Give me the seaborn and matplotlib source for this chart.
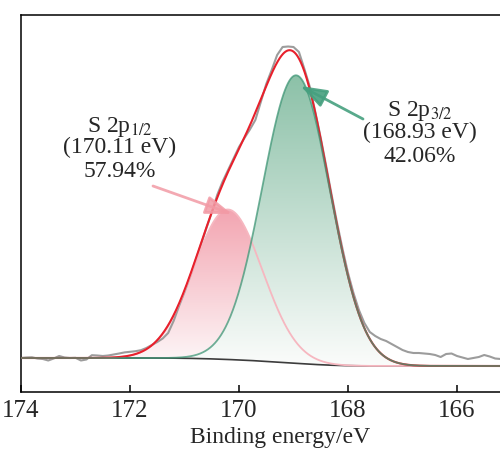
import numpy as np
import matplotlib
matplotlib.use("Agg")
import matplotlib.pyplot as plt
import matplotlib.colors as mcolors
import seaborn as sns

# Raw spectrum (binding energy in eV, intensity in a.u.)
raw_be = [174.0, 173.9, 173.8, 173.7, 173.6, 173.5, 173.4, 173.3, 173.2, 173.1,
          173.0, 172.9, 172.8, 172.7, 172.6, 172.5, 172.4, 172.3, 172.2, 172.1,
          172.0, 171.9, 171.8, 171.7, 171.6, 171.5, 171.4, 171.3, 171.2, 171.1,
          171.0, 170.9, 170.8, 170.7, 170.6, 170.5, 170.4, 170.3, 170.2, 170.1,
          170.0, 169.9, 169.8, 169.7, 169.6, 169.5, 169.4, 169.3, 169.2, 169.1,
          169.0, 168.9, 168.8, 168.7, 168.6, 168.5, 168.4, 168.3, 168.2, 168.1,
          168.0, 167.9, 167.8, 167.7, 167.6, 167.5, 167.4, 167.3, 167.2, 167.1,
          167.0, 166.9, 166.8, 166.7, 166.6, 166.5, 166.4, 166.3, 166.2, 166.1,
          166.0, 165.9, 165.8, 165.7, 165.6, 165.5, 165.4, 165.3, 165.2]
raw_int = [8.0, 8.5, 8.7, 7.5, 7.0, 5.5, 7.5, 10.0, 8.5, 8.0,
           8.2, 5.5, 6.5, 10.8, 10.5, 10.0, 10.5, 11.5, 12.5, 13.6,
           14.2, 14.8, 15.8, 18.0, 21.0, 24.0, 27.5, 33.0, 45.0, 60.0,
           74.0, 89.0, 105.0, 121.0, 137.5, 153.5, 171.0, 184.5, 196.0, 207.5,
           219.0, 228.0, 236.5, 246.0, 264.0, 282.0, 296.0, 311.0, 319.0, 319.5,
           319.0, 314.0, 297.0, 279.0, 254.0, 228.0, 200.0, 171.0, 143.0, 117.0,
           93.0, 73.0, 56.0, 43.0, 34.0, 30.0, 27.0, 25.0, 22.0, 19.0,
           16.0, 14.0, 13.0, 13.0, 12.5, 12.0, 11.0, 9.0, 12.0, 12.5,
           10.0, 8.5, 7.0, 8.0, 9.0, 11.0, 9.5, 7.5, 7.0]

# Fitted components (Gaussian): centre, height, width
peak_names = ["S 2p1/2", "S 2p3/2"]
peak_centers = [170.20, 168.95]
peak_heights = [150.0, 288.0]
peak_sigmas = [0.63, 0.62]
bg_high, bg_low = 8.0, 0.0

# Annotation texts
label_left = ["S 2p$_{1/2}$", "(170.11 eV)", "57.94%"]
label_right = ["S 2p$_{3/2}$", "(168.93 eV)", "42.06%"]

sns.set_theme(style="ticks")
plt.rcParams['font.family'] = ['Liberation Serif', 'DejaVu Serif']
plt.rcParams['mathtext.fontset'] = 'stix'

fig = plt.figure(figsize=(5, 4.5), dpi=100)
ax = fig.add_axes([21 / 500, 58 / 450, 517.75 / 500, 377 / 450])

# Evaluate components and Shirley-type background
be = np.linspace(174.0, 164.5, 1901)
comps = [h * np.exp(-(be - c) ** 2 / (2 * s ** 2))
         for c, h, s in zip(peak_centers, peak_heights, peak_sigmas)]
total = comps[0] + comps[1]
cum = np.cumsum(total[::-1])[::-1]
bg = bg_low + (bg_high - bg_low) * cum / cum[0]
envelope = bg + total


def gradient_fill(ax, x, top, base, c_top, c_bot, z):
    # vertical colour gradient clipped to the area under a component
    poly = ax.fill_between(x, base, top, facecolor='none', edgecolor='none')
    path = poly.get_paths()[0]
    t = np.linspace(0, 1, 256)[:, None]
    grad = np.ones((256, 1, 4))
    grad[..., :3] = (1 - t[..., None]) * np.array(mcolors.to_rgb(c_top)) + \
        t[..., None] * np.array(mcolors.to_rgb(c_bot))
    im = ax.imshow(grad, extent=[x.min(), x.max(), base.min(), top.max()],
                   origin='upper', aspect='auto', zorder=z, interpolation='bilinear')
    im.set_clip_path(path, transform=ax.transData)


gradient_fill(ax, be, bg + comps[0], bg, '#f3a5b1', '#fdf8f9', 1)
gradient_fill(ax, be, bg + comps[1], bg, '#8cc1a8', '#fbfcfb', 1.1)

# Lines
sns.lineplot(x=raw_be, y=raw_int, ax=ax, color='#9c9c9c', lw=1.5, zorder=2)
sns.lineplot(x=be, y=bg, ax=ax, color='#3c3c3c', lw=1.2, zorder=2.2)
sns.lineplot(x=be, y=bg + comps[0], ax=ax, color='#f6b7c0', lw=1.3, zorder=2.4)
sns.lineplot(x=be, y=envelope, ax=ax, color='#e8202c', lw=1.5, zorder=2.6)
sns.lineplot(x=be, y=bg + comps[1], ax=ax, color='#3f9676', lw=1.3, alpha=0.75, zorder=2.8)

# Arrows pointing to the components
ax.annotate('', xy=(170.13, 152), xytext=(153 / 500, 1 - 186 / 450),
            textcoords='figure fraction',
            arrowprops=dict(arrowstyle='-|>,head_length=0.8,head_width=0.28',
                            mutation_scale=20, color='#f29aa5', lw=2, alpha=0.85,
                            shrinkA=0, shrinkB=0), zorder=5)
ax.annotate('', xy=(168.87, 280), xytext=(363 / 500, 1 - 119 / 450),
            textcoords='figure fraction',
            arrowprops=dict(arrowstyle='-|>,head_length=0.8,head_width=0.28',
                            mutation_scale=20, color='#46a07f', lw=2, alpha=0.9,
                            shrinkA=0, shrinkB=0), zorder=5)

# Labels
for txt, yb in zip(label_left, [132, 153, 177]):
    fig.text(120 / 500, 1 - yb / 450, txt, ha='center', va='baseline', fontsize=17)
for txt, yb in zip(label_right, [116, 138, 162]):
    fig.text(420 / 500, 1 - yb / 450, txt, ha='center', va='baseline', fontsize=17)

ax.set_xlim(174, 164.5)
ax.set_ylim(-26, 351)
ax.set_xticks([174, 172, 170, 168, 166])
ax.set_yticks([])
ax.set_xlabel('Binding energy/eV', fontsize=17, labelpad=3)
ax.set_ylabel('')
ax.tick_params(axis='x', direction='in', length=5, width=1.1, labelsize=18, pad=6, color='black')
for side in ['left', 'top', 'bottom', 'right']:
    ax.spines[side].set_color('black')
    ax.spines[side].set_linewidth(1.1)

fig.savefig('out.png', dpi=100)
